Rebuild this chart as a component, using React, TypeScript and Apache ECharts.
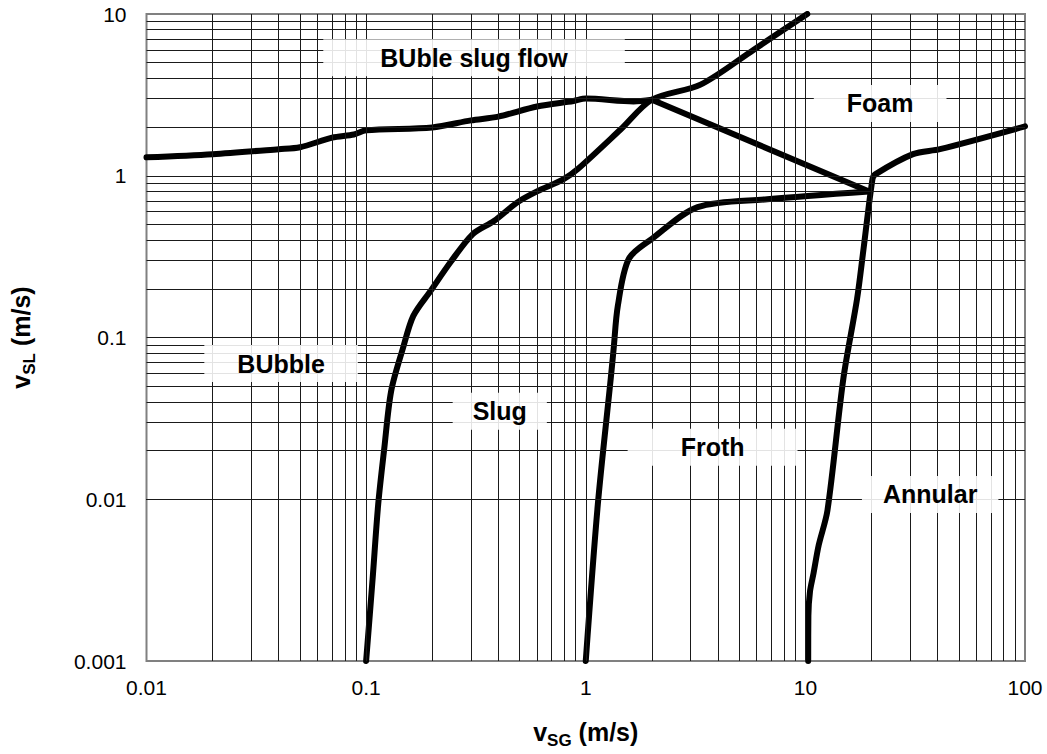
import React, { useEffect, useRef } from "react";
import * as echarts from "echarts";

const FONT = '"Liberation Sans", Arial, Helvetica, sans-serif';

// Axis decades / tick labels
const xDecades = [0.01, 0.1, 1, 10];
const yDecades = [0.001, 0.01, 0.1, 1];
const gridMultipliers = [1, 2, 3, 4, 5, 6, 7, 8, 9];

// Flow regime boundaries [vSG, vSL]
const bubbleSlugFlowTop: number[][] = [
  [0.01, 1.3], [0.02, 1.36], [0.04, 1.46], [0.05, 1.5], [0.07, 1.72], [0.088, 1.8],
  [0.1, 1.91], [0.2, 1.99], [0.3, 2.2], [0.4, 2.32], [0.6, 2.68], [0.88, 2.9],
  [1.0, 3.0], [1.65, 2.88], [2.0, 2.95],
];
const foamBoundary: number[][] = [
  [2.0, 2.95], [19.5, 0.8],
];
const bubbleSlugBoundary: number[][] = [
  [0.1, 0.001], [0.107, 0.0032], [0.1135, 0.0093], [0.121, 0.0207], [0.13, 0.0466],
  [0.147, 0.0855], [0.164, 0.136], [0.197, 0.195], [0.243, 0.294], [0.306, 0.436],
  [0.382, 0.525], [0.49, 0.687], [0.6, 0.8], [0.79, 0.95], [0.92, 1.1], [1.44, 1.93],
  [2.0, 2.95], [3.33, 3.66], [5.8, 6.0], [10.2, 10],
];
const slugFrothBoundary: number[][] = [
  [1.0, 0.001], [1.135, 0.0093], [1.3, 0.056], [1.34, 0.0855], [1.4, 0.157],
  [1.57, 0.306], [2.0, 0.407], [3.23, 0.64], [6.7, 0.716], [19.5, 0.8],
];
const annularBoundary: number[][] = [
  [10.3, 0.001], [10.32, 0.0019], [10.5, 0.0027], [10.9, 0.0035], [11.5, 0.0052], [12.6, 0.0085],
  [14.9, 0.056], [17.2, 0.174], [18.4, 0.353], [20.2, 0.95], [20.8, 1.02],
  [30.9, 1.36], [41, 1.46], [100, 2.02],
];

// Region labels
const regionNames = ["BUble slug flow", "Foam", "BUbble", "Slug", "Froth", "Annular"];
const regionPositions: number[][] = [
  [0.31, 5.36], [21.9, 2.8], [0.041, 0.069], [0.406, 0.035], [3.78, 0.021], [37, 0.0107],
];
const regionPadX = [57, 33, 33, 20, 53, 21];

function gridValues(decades: number[], max: number) {
  const out: number[] = [];
  decades.forEach((d) => {
    gridMultipliers.forEach((m) => {
      const v = Number((d * m).toPrecision(3));
      if (v > decades[0] && v < max) out.push(v);
    });
  });
  return out;
}

export default function App() {
  const ref = useRef<HTMLDivElement>(null);

  useEffect(() => {
    if (!ref.current) return;
    const chart = echarts.init(ref.current, undefined, { renderer: "svg" });

    const xGrid = gridValues(xDecades, 100);
    const yGrid = gridValues(yDecades, 10);

    const curveStyle = {
      type: "line",
      showSymbol: false,
      symbol: "none",
      z: 3,
      silent: true,
      smooth: 0.3,
      lineStyle: { color: "#000", width: 6, cap: "round", join: "round" },
    };

    const titleRich = {
      v: { fontSize: 25, fontWeight: "bold", fontFamily: FONT, color: "#000", lineHeight: 34 },
      s: { fontSize: 17, fontWeight: "bold", fontFamily: FONT, color: "#000", lineHeight: 17, verticalAlign: "bottom" },
    };

    const option: any = {
      animation: false,
      backgroundColor: "#fff",
      grid: {
        left: 145,
        top: 14,
        width: 880,
        height: 650,
        show: true,
        borderColor: "#808080",
        borderWidth: 2,
        backgroundColor: "transparent",
      },
      xAxis: {
        type: "log",
        logBase: 10,
        min: 0.01,
        max: 100,
        splitNumber: 4,
        axisLine: { show: false },
        axisTick: { show: false },
        splitLine: { show: false },
        axisLabel: {
          fontSize: 21,
          color: "#000",
          fontFamily: FONT,
          margin: 16,
          formatter: (v: number) => String(Number(v.toPrecision(6))),
        },
        name: "{v|v}{s|SG}{v| (m/s)}",
        nameLocation: "middle",
        nameGap: 54,
        nameTextStyle: { rich: titleRich },
      },
      yAxis: {
        type: "log",
        logBase: 10,
        min: 0.001,
        max: 10,
        splitNumber: 4,
        axisLine: { show: false },
        axisTick: { show: false },
        splitLine: { show: false },
        axisLabel: {
          fontSize: 21,
          color: "#000",
          fontFamily: FONT,
          margin: 20,
          formatter: (v: number) => String(Number(v.toPrecision(6))),
        },
        name: "{v|v}{s|SL}{v| (m/s)}",
        nameLocation: "middle",
        nameGap: 109,
        nameTextStyle: { rich: titleRich },
      },
      series: [
        {
          type: "line",
          data: [[0.01, 0.001]],
          showSymbol: false,
          symbol: "none",
          lineStyle: { opacity: 0 },
          silent: true,
          z: 1,
          markLine: {
            silent: true,
            symbol: ["none", "none"],
            label: { show: false },
            lineStyle: { color: "#1a1a1a", width: 1, type: "solid" },
            emphasis: { disabled: true },
            data: [
              ...xGrid.map((v) => ({ xAxis: v })),
              ...yGrid.map((v) => ({ yAxis: v })),
            ],
          },
        },
        { ...curveStyle, data: bubbleSlugFlowTop },
        { ...curveStyle, smooth: false, data: foamBoundary },
        { ...curveStyle, data: bubbleSlugBoundary },
        { ...curveStyle, data: slugFrothBoundary },
        { ...curveStyle, data: annularBoundary },
        {
          type: "scatter",
          symbolSize: 0,
          z: 5,
          silent: true,
          itemStyle: { opacity: 1 },
          data: regionNames.map((n, i) => ({
            name: n,
            value: regionPositions[i],
            label: { padding: [6, regionPadX[i], 6, regionPadX[i]] },
          })),
          label: {
            show: true,
            position: "inside",
            formatter: (p: any) => p.name,
            fontSize: 25,
            fontWeight: "bold",
            fontFamily: FONT,
            color: "#000",
            opacity: 1,
            textBorderWidth: 0,
            lineHeight: 25,
            backgroundColor: "rgba(255,255,255,0.88)",
          },
        },
      ],
    };

    chart.setOption(option);
    return () => chart.dispose();
  }, []);

  return (
    <div
      ref={ref}
      style={{ position: "fixed", left: 0, top: 0, width: 1047, height: 754, background: "#fff" }}
    />
  );
}
